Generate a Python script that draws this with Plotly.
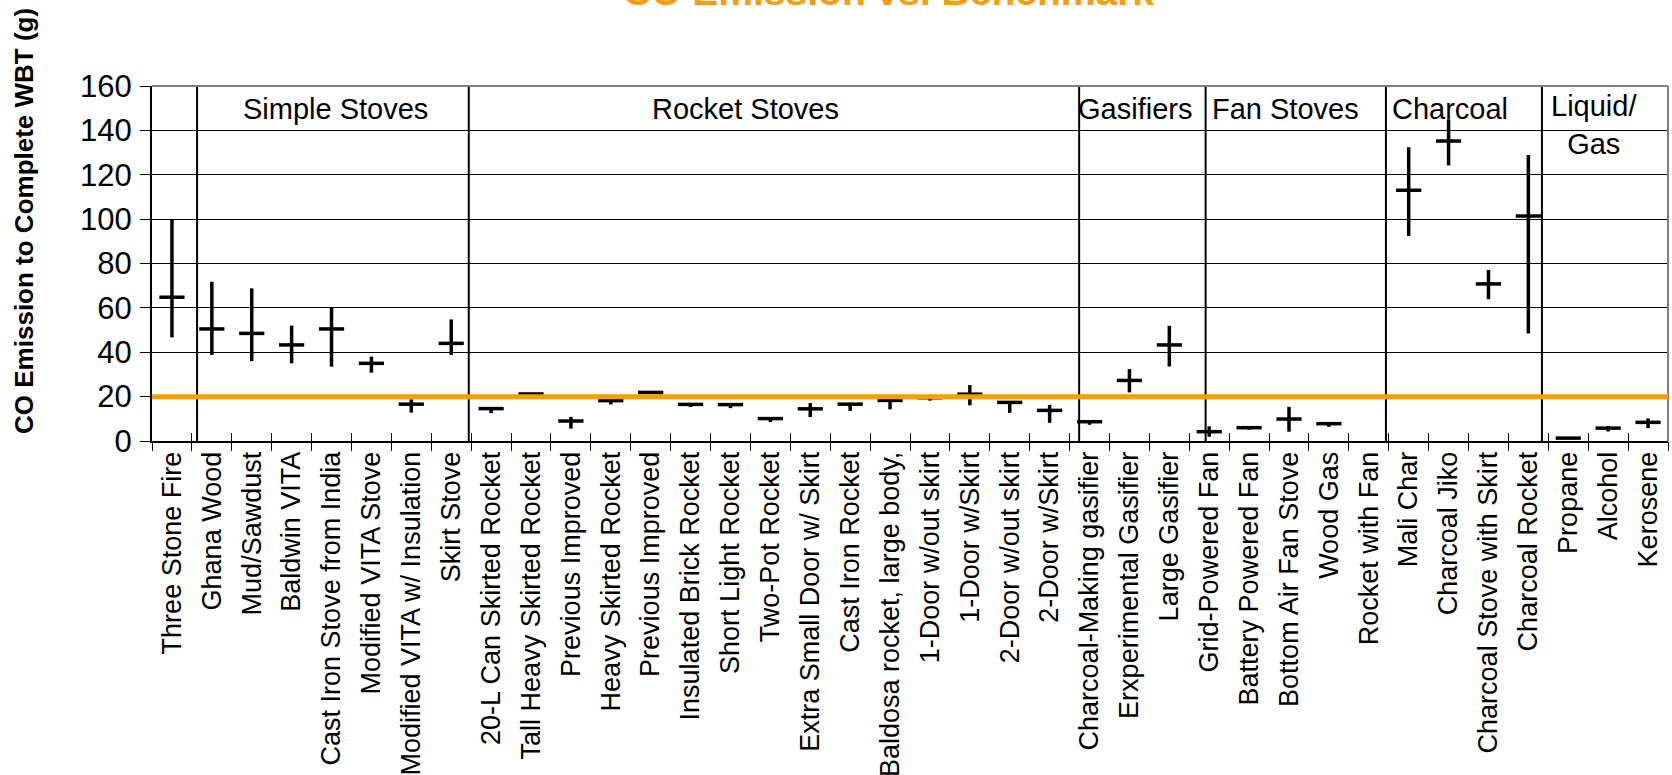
import plotly.graph_objects as go

# ---------------- data ----------------
stoves = [
    "Three Stone Fire",
    "Ghana Wood", "Mud/Sawdust", "Baldwin VITA", "Cast Iron Stove from India",
    "Modified VITA Stove", "Modified VITA w/ Insulation", "Skirt Stove",
    "20-L Can Skirted Rocket", "Tall Heavy Skirted Rocket", "Previous Improved",
    "Heavy Skirted Rocket", "Previous Improved", "Insulated Brick Rocket",
    "Short Light Rocket", "Two-Pot Rocket", "Extra Small Door w/ Skirt",
    "Cast Iron Rocket", "Baldosa rocket, large body,", "1-Door w/out skirt",
    "1-Door w/Skirt", "2-Door w/out skirt", "2-Door w/Skirt",
    "Charcoal-Making gasifier", "Erxperimental Gasifier", "Large Gasifier",
    "Grid-Powered Fan", "Battery Powered Fan", "Bottom Air Fan Stove", "Wood Gas",
    "Rocket with Fan",
    "Mali Char", "Charcoal Jiko", "Charcoal Stove with Skirt", "Charcoal Rocket",
    "Propane", "Alcohol", "Kerosene",
]
co_mean = [
    64.8,
    50.5, 48.5, 43.3, 50.5, 35.0, 16.6, 44.0,
    14.6, 21.2, 9.0, 18.2, 21.9, 16.5, 16.4, 10.1, 14.5, 16.6, 18.3, 19.5,
    21.1, 17.4, 13.8,
    8.7, 27.3, 43.3,
    4.2, 6.0, 9.9, 7.8, None,
    113.0, 135.2, 70.8, 101.4,
    1.3, 5.8, 8.4,
]
co_high = [
    99.6,
    71.8, 68.8, 52.0, 60.1, 38.0, 18.8, 54.8,
    15.2, 21.2, 10.9, 18.4, 22.1, 17.0, 16.6, 10.2, 17.1, 17.2, 18.6, 19.5,
    25.2, 17.6, 16.3,
    8.8, 32.4, 51.9,
    6.6, 6.3, 15.4, 7.9, None,
    132.4, 145.0, 77.1, 128.9,
    1.4, 6.8, 10.2,
]
co_low = [
    46.7,
    38.8, 36.0, 35.0, 33.5, 30.8, 12.8, 38.8,
    12.6, 21.2, 5.6, 16.5, 21.6, 15.3, 14.8, 8.5, 10.8, 13.6, 14.3, 18.2,
    16.1, 12.7, 8.2,
    7.3, 21.9, 33.6,
    1.9, 5.1, 4.2, 6.4, None,
    92.4, 124.2, 63.9, 48.5,
    0.9, 4.3, 5.8,
]
benchmark = 20

group_names = ["Simple Stoves", "Rocket Stoves", "Gasifiers", "Fan Stoves",
               "Charcoal", "Liquid/<br>Gas"]
group_label_x = [4.1, 14.38, 24.15, 27.92, 32.04, 35.65]
group_label_y = [149.6, 149.6, 149.6, 149.6, 149.6, 142.4]
divider_x = [0.63, 7.44, 22.74, 25.91, 30.43, 34.34]

y_ticks = [0, 20, 40, 60, 80, 100, 120, 140, 160]

# ---------------- derived ----------------
xs = list(range(len(stoves)))
err_plus = [None if m is None else h - m for m, h in zip(co_mean, co_high)]
err_minus = [None if m is None else m - l for m, l in zip(co_mean, co_low)]
bounds = [i - 0.5 for i in range(len(stoves) + 1)]
xrange_ = [-0.5, len(stoves) - 0.5]

FONT = "Liberation Sans, Arial, sans-serif"
ORANGE = "#FF9C00"

fig = go.Figure()
fig.add_trace(go.Scatter(
    x=xs, y=co_mean, mode="markers",
    marker=dict(symbol="line-ew", size=18, color="black",
                line=dict(width=3.5, color="black")),
    error_y=dict(type="data", symmetric=False, array=err_plus,
                 arrayminus=err_minus, width=0, thickness=3.5, color="black"),
    showlegend=False, hoverinfo="x+y",
))
# dummy traces so the overlay tick axes render
for xa, ya in [("x2", "y"), ("x3", "y"), ("x", "y2")]:
    fig.add_trace(go.Scatter(x=[None], y=[None], xaxis=xa, yaxis=ya,
                             showlegend=False, hoverinfo="skip"))

shapes = []
for d in divider_x:
    shapes.append(dict(type="line", xref="x", yref="paper", x0=d, x1=d,
                       y0=0, y1=1, line=dict(color="black", width=2)))
shapes.append(dict(type="line", xref="paper", yref="paper", x0=0, x1=1,
                   y0=1, y1=1, line=dict(color="#7f7f7f", width=2)))
shapes.append(dict(type="line", xref="paper", yref="paper", x0=1, x1=1,
                   y0=0, y1=1, line=dict(color="#7f7f7f", width=2)))
shapes.append(dict(type="line", xref="paper", yref="y", x0=0, x1=1,
                   y0=benchmark, y1=benchmark, layer="above",
                   line=dict(color=ORANGE, width=5)))

annotations = []
for name, gx, gy in zip(group_names, group_label_x, group_label_y):
    annotations.append(dict(text=name, x=gx, y=gy, xref="x", yref="y",
                            showarrow=False, xanchor="center", yanchor="middle",
                            font=dict(family=FONT, size=29, color="black")))
annotations.append(dict(text="<b>CO Emission vs. Benchmark</b>",
                        x=0.486, y=1.20, xref="paper", yref="paper",
                        showarrow=False, xanchor="center", yanchor="bottom",
                        font=dict(family=FONT, size=39, color=ORANGE)))
annotations.append(dict(text="<b>CO Emission to Complete WBT (g)</b>",
                        x=-0.0844, y=0.62, xref="paper", yref="paper",
                        textangle=-90, showarrow=False,
                        xanchor="center", yanchor="middle",
                        font=dict(family=FONT, size=26, color="black")))

fig.update_layout(
    width=1672, height=775,
    margin=dict(l=152, r=4, t=86, b=334, autoexpand=False),
    paper_bgcolor="white", plot_bgcolor="white",
    font=dict(family=FONT, color="black"),
    xaxis=dict(range=xrange_, tickmode="array", tickvals=xs, ticktext=stoves,
               tickangle=-90, ticks="", ticklen=0, showgrid=False,
               zeroline=False, automargin=False,
               showline=True, linecolor="black", linewidth=2,
               ticklabelstandoff=-2,
               tickfont=dict(family=FONT, size=27, color="black")),
    xaxis2=dict(range=xrange_, overlaying="x", anchor="y", side="bottom",
                tickmode="array", tickvals=bounds, ticks="outside",
                ticklen=9, tickwidth=1, tickcolor="black", automargin=False,
                showticklabels=False, showgrid=False, zeroline=False,
                showline=False),
    xaxis3=dict(range=xrange_, overlaying="x", anchor="y", side="bottom",
                tickmode="array", tickvals=bounds, ticks="inside",
                ticklen=8, tickwidth=1, tickcolor="black", automargin=False,
                showticklabels=False, showgrid=False, zeroline=False,
                showline=False),
    yaxis=dict(range=[0, 160], tickmode="array", tickvals=y_ticks,
               showgrid=True, gridcolor="black", gridwidth=1,
               zeroline=False, showline=True, linecolor="black", linewidth=2,
               ticks="outside", ticklen=10, tickwidth=1, tickcolor="black",
               ticklabelstandoff=2, automargin=False,
               tickfont=dict(family=FONT, size=31, color="black")),
    yaxis2=dict(range=[0, 160], overlaying="y", anchor="x", side="left",
                tickmode="array", tickvals=y_ticks, ticks="inside",
                ticklen=8, tickwidth=1, tickcolor="black", automargin=False,
                showticklabels=False, showgrid=False, zeroline=False,
                showline=False),
    shapes=shapes,
    annotations=annotations,
)

fig.write_html("out.html")
